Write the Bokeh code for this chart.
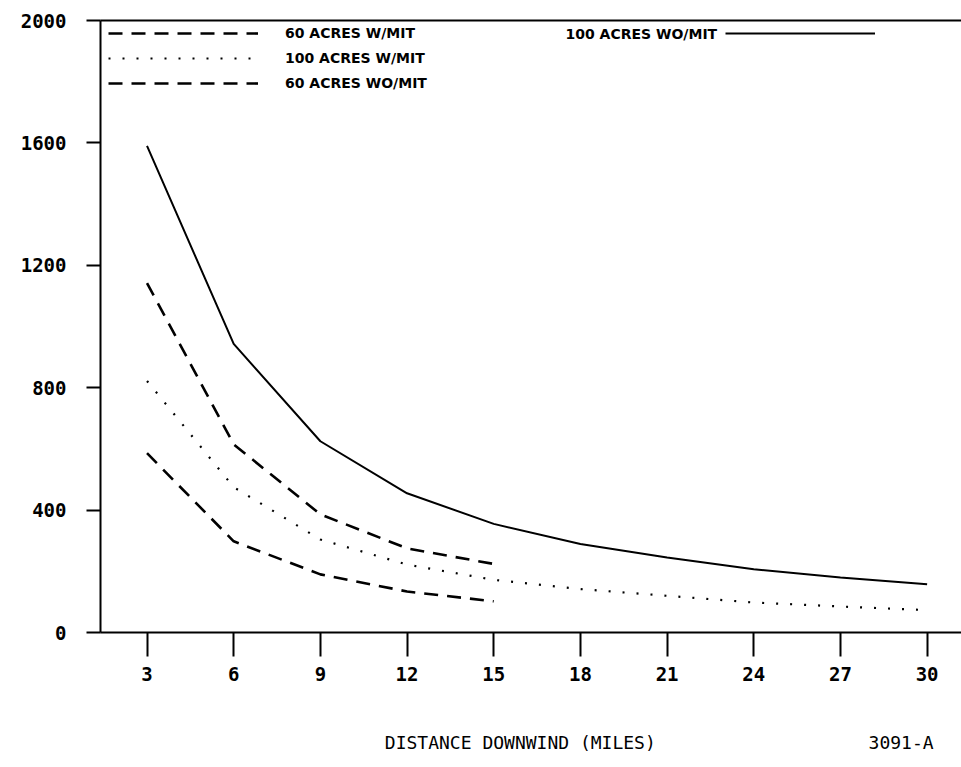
from bokeh.plotting import figure
from bokeh.models import (Range1d, FixedTicker, LinearAxis, Legend, LegendItem,
                          Label)
from bokeh.embed import file_html
from bokeh.resources import INLINE

# ---- data ----
distance = [3, 6, 9, 12, 15, 18, 21, 24, 27, 30]
acres100_wo_mit = [1590, 943, 625, 455, 355, 289, 245, 207, 180, 158]
acres100_w_mit = [822, 475, 304, 222, 172, 142, 120, 98, 85, 73]
distance60 = [3, 6, 9, 12, 15]
acres60_wo_mit = [1142, 615, 386, 275, 224]
acres60_w_mit = [586, 298, 190, 134, 102]

x_ticks = [3, 6, 9, 12, 15, 18, 21, 24, 27, 30]
y_ticks = [0, 400, 800, 1200, 1600, 2000]

x_title = "DISTANCE DOWNWIND (MILES)"
figure_id = "3091-A"

TICK_FONT = "DejaVu Sans Mono"

p = figure(width=961, height=762, output_backend="svg", toolbar_location=None,
           x_range=Range1d(1.39, 31.19), y_range=Range1d(0, 2000),
           min_border_left=100, min_border_right=0, min_border_top=20,
           min_border_bottom=130)
p.grid.visible = False
p.outline_line_color = None
p.background_fill_color = "white"
p.border_fill_color = "white"

xaxis = p.xaxis[0]
yaxis = p.yaxis[0]

# axes
for ax, ticks in ((xaxis, x_ticks), (yaxis, y_ticks)):
    ax.ticker = FixedTicker(ticks=ticks)
    ax.minor_tick_line_color = None
    ax.major_tick_in = 0
    ax.axis_line_width = 2
    ax.major_tick_line_width = 2
    ax.axis_line_color = "black"
    ax.major_tick_line_color = "black"
    ax.major_label_text_font = TICK_FONT
    ax.major_label_text_font_style = "bold"
    ax.major_label_text_font_size = "19px"
    ax.major_label_text_color = "black"

xaxis.major_tick_out = 24
xaxis.major_label_standoff = 10
yaxis.major_tick_out = 14
yaxis.major_label_standoff = 20

# bottom caption line: axis title (centred) and figure number (right)
title_pos = 15.92
id_pos = 29.1
caption = LinearAxis(ticker=FixedTicker(ticks=[title_pos, id_pos]),
                     major_label_overrides={title_pos: x_title, id_pos: figure_id},
                     axis_line_color=None, major_tick_line_color=None,
                     minor_tick_line_color=None, major_tick_in=0, major_tick_out=0,
                     major_label_standoff=48,
                     major_label_text_font=TICK_FONT,
                     major_label_text_font_style="normal",
                     major_label_text_font_size="18px",
                     major_label_text_color="black")
p.add_layout(caption, "below")

# top frame line
top = LinearAxis(ticker=FixedTicker(ticks=[]), major_label_text_font_size="0px",
                 axis_line_width=2, axis_line_color="black")
top.major_tick_line_color = None
top.minor_tick_line_color = None
p.add_layout(top, "above")

# data lines
r_60w = p.line(distance60, acres60_w_mit, line_color="black", line_width=2.6,
               line_dash="14 9")
r_100w = p.line(distance, acres100_w_mit, line_color="black", line_width=2.2,
                line_dash="2 12")
r_60wo = p.line(distance60, acres60_wo_mit, line_color="black", line_width=2.6,
                line_dash="14 9")
r_100wo = p.line(distance, acres100_wo_mit, line_color="black", line_width=2)

legend_style = dict(border_line_color=None, background_fill_alpha=0,
                    label_text_font="DejaVu Sans", label_text_font_style="bold",
                    label_text_font_size="14px", label_text_color="black",
                    glyph_width=150, glyph_height=16, label_height=16,
                    spacing=9, padding=0, margin=0, label_standoff=27)

legend1 = Legend(items=[LegendItem(label="60 ACRES W/MIT", renderers=[r_60w]),
                        LegendItem(label="100 ACRES W/MIT", renderers=[r_100w]),
                        LegendItem(label="60 ACRES WO/MIT", renderers=[r_60wo])],
                 location=(8, 541), **legend_style)
p.add_layout(legend1)

legend2 = Legend(items=[LegendItem(label=" ", renderers=[r_100wo])],
                 location=(625, 591), **legend_style)
p.add_layout(legend2)

p.add_layout(Label(x=465, y=599, x_units="screen", y_units="screen",
                   text="100 ACRES WO/MIT", text_font="DejaVu Sans",
                   text_font_style="bold", text_font_size="14px",
                   text_color="black", text_baseline="middle"))

open("out.html", "w").write(file_html(p, INLINE))
